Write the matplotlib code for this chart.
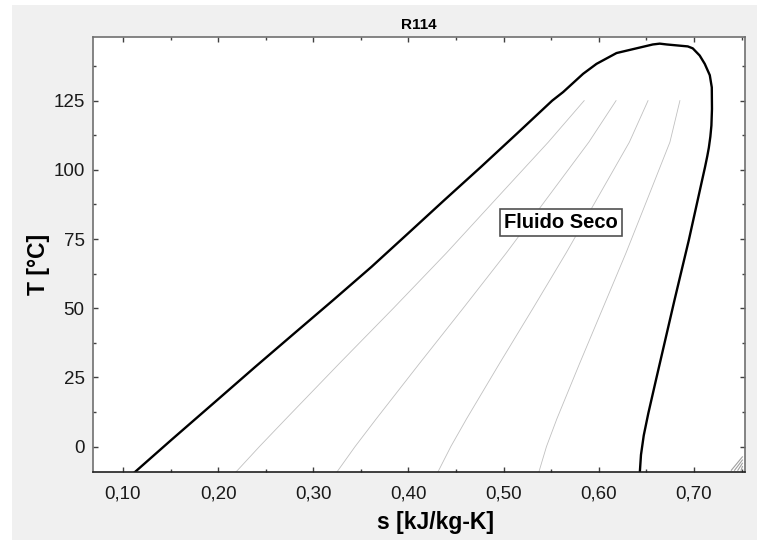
import numpy as np
import matplotlib
matplotlib.use("Agg")
import matplotlib.pyplot as plt
from matplotlib.patches import Rectangle
from matplotlib.ticker import MultipleLocator, FuncFormatter

plt.rcParams['font.family'] = ['Liberation Sans', 'DejaVu Sans']

# saturation dome, liquid side -> critical point -> vapour side
dome_s = [0.1126, 0.1505, 0.1990, 0.2390, 0.2800, 0.3208, 0.3610, 0.3995, 0.4375,
          0.4760, 0.5140, 0.5510, 0.5625, 0.5835, 0.5976, 0.6186, 0.6567, 0.6640,
          0.6714, 0.6935, 0.6987, 0.7060, 0.7113, 0.7166, 0.7187, 0.7189, 0.7183,
          0.7172, 0.7156, 0.7140, 0.7116, 0.7092, 0.6945, 0.6795, 0.6600, 0.6520,
          0.6472, 0.6443, 0.6431]
dome_T = [-9.2, 2.3, 16.8, 28.8, 40.9, 52.9, 64.9, 77.0, 89.0,
          101.0, 113.1, 125.0, 128.1, 134.7, 138.3, 142.2, 145.3, 145.6,
          145.3, 144.6, 143.9, 141.3, 138.3, 134.2, 129.8, 122.0, 116.0,
          112.0, 108.0, 105.0, 101.0, 97.3, 74.5, 52.9, 24.0, 12.0,
          4.0, -3.0, -9.2]

# constant quality lines (x = 0.2, 0.4, 0.6, 0.8)
qual_T = [-9.2, 0, 10, 30, 50, 70, 90, 110, 125]
q02 = [0.2187, 0.2434, 0.2712, 0.3273, 0.3842, 0.4400, 0.4934, 0.5469, 0.5846]
q04 = [0.3248, 0.3439, 0.3661, 0.4115, 0.4575, 0.5029, 0.5462, 0.5895, 0.6181]
q06 = [0.4309, 0.4445, 0.4610, 0.4956, 0.5309, 0.5657, 0.5989, 0.6321, 0.6517]
q08 = [0.5370, 0.5450, 0.5559, 0.5798, 0.6042, 0.6286, 0.6517, 0.6747, 0.6852]

fig = plt.figure(figsize=(7.57, 5.41), dpi=100, facecolor="white")
fig.patches.append(Rectangle((12/757, 1/541), 745/757, 535/541, transform=fig.transFigure,
                             facecolor="#f0f0f0", edgecolor="none", zorder=-10))
ax = fig.add_axes([93/757, 1 - 472/541, 652/757, 435/541])

for q in [q02, q04, q06, q08]:
    ax.plot(q, qual_T, color="#c0c0c0", lw=0.6)
ax.plot(dome_s, dome_T, color="black", lw=1.7, solid_joinstyle="round")

ax.set_xlim(0.0685, 0.7536)
ax.set_ylim(-9.2, 148)
ax.xaxis.set_major_locator(MultipleLocator(0.1))
ax.xaxis.set_minor_locator(MultipleLocator(0.05))
ax.yaxis.set_major_locator(MultipleLocator(25))
ax.yaxis.set_minor_locator(MultipleLocator(12.5))
ax.xaxis.set_major_formatter(FuncFormatter(lambda v, p: f"{v:.2f}".replace(".", ",")))
ax.yaxis.set_major_formatter(FuncFormatter(lambda v, p: f"{v:.0f}"))

ax.tick_params(which="both", direction="in", top=True, right=True, labelsize=13.5,
               color="#404040", labelcolor="#1a1a1a")
ax.tick_params(which="major", length=3.6, width=1)
ax.tick_params(which="minor", length=2.2, width=1)
ax.tick_params(axis="x", pad=10)
ax.tick_params(axis="y", pad=6)

for side in ["top", "left", "right"]:
    ax.spines[side].set_color("#707070")
ax.spines["bottom"].set_color("#202020")
for sp in ax.spines.values():
    sp.set_linewidth(1.2)

ax.set_title("R114", fontsize=11, fontweight="bold", pad=6)
ax.set_xlabel("s [kJ/kg-K]", fontsize=16.5, fontweight="bold", va="center")
ax.xaxis.set_label_coords(0.526, -0.115)
ax.set_ylabel("T [°C]", fontsize=16.5, fontweight="bold", va="center")
ax.yaxis.set_label_coords(-0.083, 0.478)

ax.text(0.560, 81.0, "Fluido Seco", fontsize=14.5, fontweight="bold", ha="center", va="center",
        bbox=dict(boxstyle="square,pad=0.2", facecolor="white", edgecolor="#505050", lw=1.2))

# resize grip in the corner
for k in range(4):
    d = 0.006 + 0.005 * k
    ax.plot([1 - d, 0.996], [0.004, 0.004 + d * 652 / 435 * 0.98],
            transform=ax.transAxes, color="#a0a0a0", lw=0.8, clip_on=False)

fig.savefig("out.png", dpi=100, facecolor=fig.get_facecolor())
